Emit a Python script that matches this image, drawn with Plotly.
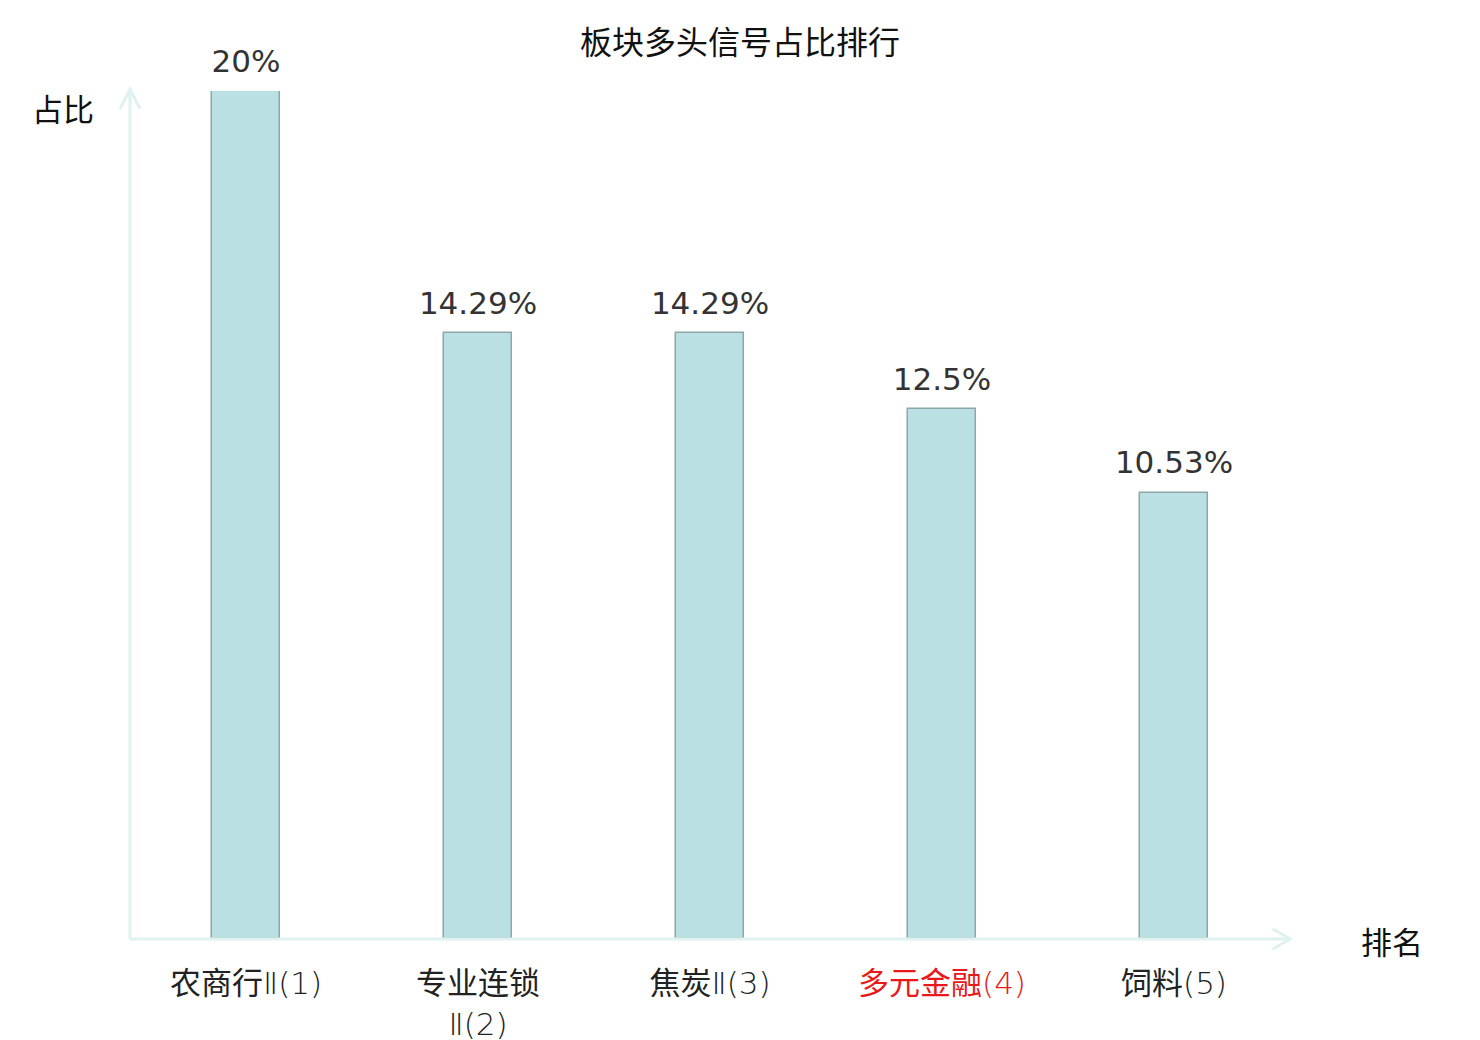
import plotly.graph_objects as go

# 板块多头信号占比排行
names = ["农商行", "专业连锁", "焦炭", "多元金融", "饲料"]
suffixes = ["Ⅱ(1)", "Ⅱ(2)", "Ⅱ(3)", "(4)", "(5)"]
values = [20, 14.29, 14.29, 12.5, 10.53]
value_labels = ["20%", "14.29%", "14.29%", "12.5%", "10.53%"]
highlight = 3  # index of the red label

axis_color = "#dff2ef"
cjk = "Noto Sans CJK SC"

categories = [n + s for n, s in zip(names, suffixes)]

tick_text = []
for i, (n, s) in enumerate(zip(names, suffixes)):
    light = '<span style="font-family:\'DejaVu Sans\';font-weight:200">' + s + '</span>'
    # 专业连锁 wraps onto a second line in the reference
    label = n + ("<br>" if len(n) >= 4 and s.startswith("Ⅱ") else "") + light
    if i == highlight:
        label = '<span style="color:#e8191b">' + label + '</span>'
    tick_text.append(label)

fig = go.Figure()

fig.add_trace(go.Bar(
    x=categories,
    y=values,
    width=0.293,
    marker=dict(color="#bbe0e3", line=dict(color="#8ea8a9", width=1.5)),
    hoverinfo="skip",
))

# value labels above the bars (transparent markers push the text up a bit)
fig.add_trace(go.Scatter(
    x=categories,
    y=values,
    mode="markers+text",
    marker=dict(size=17, opacity=0),
    text=value_labels,
    textposition="top center",
    textfont=dict(family="DejaVu Sans", size=31, color="#333333"),
    cliponaxis=False,
    hoverinfo="skip",
))

# the page adds an 8px body margin, so margins are offset by that
fig.update_layout(
    width=1480,
    height=1040,
    margin=dict(l=122, r=198, t=83, b=109, autoexpand=False),
    paper_bgcolor="white",
    plot_bgcolor="white",
    showlegend=False,
    bargap=0,
    title=dict(text="板块多头信号占比排行", x=0.4946, xref="container", xanchor="center",
               y=1 - 35 / 1040, yanchor="middle",
               font=dict(family=cjk, size=32, color="#111111")),
)

fig.update_xaxes(
    tickmode="array",
    tickvals=categories,
    ticktext=tick_text,
    tickfont=dict(family=cjk, size=31, color="#222222"),
    ticks="outside",
    ticklen=17,
    tickcolor="rgba(0,0,0,0)",
    automargin=False,
    showline=False,
    showgrid=False,
    zeroline=False,
    range=[-0.5, 4.5],
)
fig.update_yaxes(
    range=[0, 20],
    automargin=False,
    showticklabels=False,
    showline=False,
    showgrid=False,
    zeroline=False,
)

# axis lines with open arrow heads
line_style = dict(color=axis_color, width=3)
fig.add_shape(type="line", xref="paper", yref="paper", x0=0, y0=0, x1=1, y1=0, line=line_style)
fig.add_shape(type="line", xref="paper", yref="paper", x0=0, y0=0, x1=0, y1=1.002, line=line_style)
fig.add_shape(type="path", xref="x domain", yref="y domain",
              path="M 0.985,-0.012 L 1,0 L 0.985,0.012",
              line=line_style)
fig.add_shape(type="path", xref="x domain", yref="y domain",
              path="M -0.0086,0.979 L 0,1.002 L 0.0086,0.979",
              line=line_style)

fig.add_annotation(text="占比", xref="paper", yref="paper", x=-0.058, y=0.98,
                   showarrow=False, xanchor="center", yanchor="middle",
                   font=dict(family=cjk, size=31, color="#111111"))
fig.add_annotation(text="排名", xref="paper", yref="paper", x=1.088, y=-0.002,
                   showarrow=False, xanchor="center", yanchor="middle",
                   font=dict(family=cjk, size=31, color="#111111"))

fig.write_html("out.html")
